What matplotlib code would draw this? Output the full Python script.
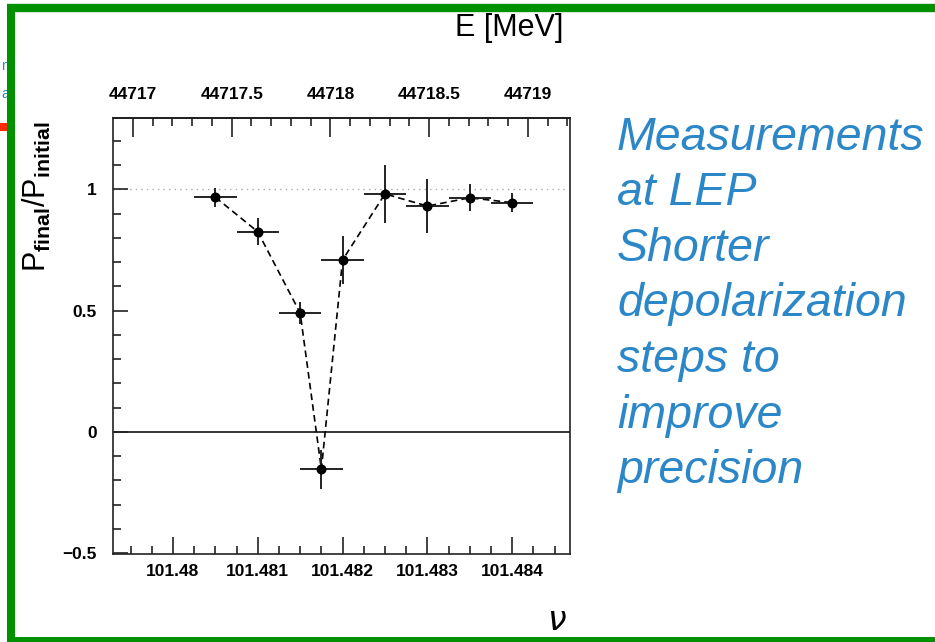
import numpy as np
import matplotlib
matplotlib.use('Agg')
import matplotlib.pyplot as plt
from matplotlib.ticker import MultipleLocator, FuncFormatter
from matplotlib.lines import Line2D

plt.rcParams['font.family'] = ['Liberation Sans', 'DejaVu Sans']
plt.rcParams['mathtext.fontset'] = 'custom'
plt.rcParams['mathtext.rm'] = 'Liberation Sans'
plt.rcParams['mathtext.bf'] = 'Liberation Sans:bold'

# spin tune nu, measured polarisation ratio and errors
nu = [101.4805, 101.481, 101.4815, 101.48175, 101.482, 101.4825, 101.483, 101.4835, 101.484]
ratio = [0.967, 0.825, 0.49, -0.154, 0.709, 0.981, 0.931, 0.965, 0.945]
ratio_err = [0.039, 0.056, 0.044, 0.08, 0.099, 0.118, 0.11, 0.055, 0.038]
nu_err = [0.00025] * 9

text_lines = ['Measurements', 'at LEP', 'Shorter', 'depolarization',
              'steps to', 'improve', 'precision']

W, H = 935, 642
fig = plt.figure(figsize=(9.35, 6.42), dpi=100)

ax = fig.add_axes([113.3 / W, 1 - 554 / H, (570 - 113.3) / W, (554 - 118.3) / H])
ax.set_xlim(101.479296, 101.484682)
ax.set_ylim(-0.503, 1.2926)

ax.axhline(1, color='#aaaaaa', lw=1, ls=(0, (1, 3)), zorder=1)
ax.axhline(0, color='#333333', lw=1.4, zorder=1)
ax.plot(nu, ratio, color='black', lw=1.2, ls=(0, (4, 2.5)), zorder=2)
ax.errorbar(nu, ratio, xerr=nu_err, yerr=ratio_err, fmt='o', color='black',
            ms=6.2, ecolor='#222222', elinewidth=1.4, capsize=0, zorder=3)

for s in ax.spines.values():
    s.set_linewidth(1.2)
    s.set_color('#222222')

ax.xaxis.set_major_locator(MultipleLocator(0.001))
ax.xaxis.set_minor_locator(MultipleLocator(0.00025))
ax.yaxis.set_major_locator(MultipleLocator(0.5))
ax.yaxis.set_minor_locator(MultipleLocator(0.1))
fmt = FuncFormatter(lambda v, p: ('%g' % round(v, 6)).replace('-', '\u2212'))
ax.xaxis.set_major_formatter(fmt)
ax.yaxis.set_major_formatter(fmt)
ax.tick_params(axis='both', which='both', direction='in', top=False, right=False,
               color='#222222', labelsize=12.5, width=1.2)
ax.tick_params(axis='x', which='major', length=12, pad=7)
ax.tick_params(axis='x', which='minor', length=6)
ax.tick_params(axis='y', which='major', length=11, pad=12)
ax.tick_params(axis='y', which='minor', length=6)
for lab in ax.get_xticklabels() + ax.get_yticklabels():
    lab.set_fontweight('bold')

# energy scale on top
e0, e_scale = 44717 + 40 / 197.5, 429.37
top = ax.secondary_xaxis('top', functions=(lambda x: e0 + (x - 101.48) * e_scale,
                                           lambda e: 101.48 + (e - e0) / e_scale))
top.xaxis.set_major_locator(MultipleLocator(0.5))
top.xaxis.set_minor_locator(MultipleLocator(0.1))
top.xaxis.set_major_formatter(fmt)
top.tick_params(axis='x', which='both', direction='in', color='#222222',
                labelsize=12.5, width=1.2)
top.tick_params(axis='x', which='major', length=14, pad=12)
top.tick_params(axis='x', which='minor', length=6)
for lab in top.get_xticklabels():
    lab.set_fontweight('bold')
top.spines['top'].set_linewidth(1.2)

fig.text(563 / W, 1 - 36 / H, 'E [MeV]', fontsize=22, ha='right', va='baseline')
fig.text(557 / W, 1 - 622 / H, r'$\nu$', fontsize=24, ha='center', va='center')
fig.text(37 / W, 1 - 197 / H, r'P$_{\mathbf{final}}$/P$_{\mathbf{initial}}$',
         fontsize=22, rotation=90, ha='center', va='center')

blue = '#2B87C8'
for i, line in enumerate(text_lines):
    fig.text(617 / W, 1 - (150 + 55.5 * i) / H, line, fontsize=33.5, style='italic',
             color=blue, ha='left', va='baseline')

# fragments of the neighbouring slide column
fig.text(1 / W, 1 - 70 / H, 'n', fontsize=10, color=blue, ha='left', va='baseline')
fig.text(1 / W, 1 - 98 / H, 'a', fontsize=10, color=blue, ha='left', va='baseline')

green = '#009000'
fig.add_artist(Line2D([0, 8 / W], [1 - 127 / H] * 2, color='#ff2a00', lw=5.8,
                      transform=fig.transFigure, solid_capstyle='butt'))
fig.add_artist(Line2D([7 / W, 1], [1 - 7.5 / H] * 2, color=green, lw=6,
                      transform=fig.transFigure, solid_capstyle='butt', zorder=5))
fig.add_artist(Line2D([11 / W] * 2, [0, 1 - 3.5 / H], color=green, lw=5.8,
                      transform=fig.transFigure, solid_capstyle='butt', zorder=5))
fig.add_artist(Line2D([7 / W, 1], [1 - 640 / H] * 2, color=green, lw=5,
                      transform=fig.transFigure, solid_capstyle='butt', zorder=5))

fig.savefig('out.png', dpi=100)
